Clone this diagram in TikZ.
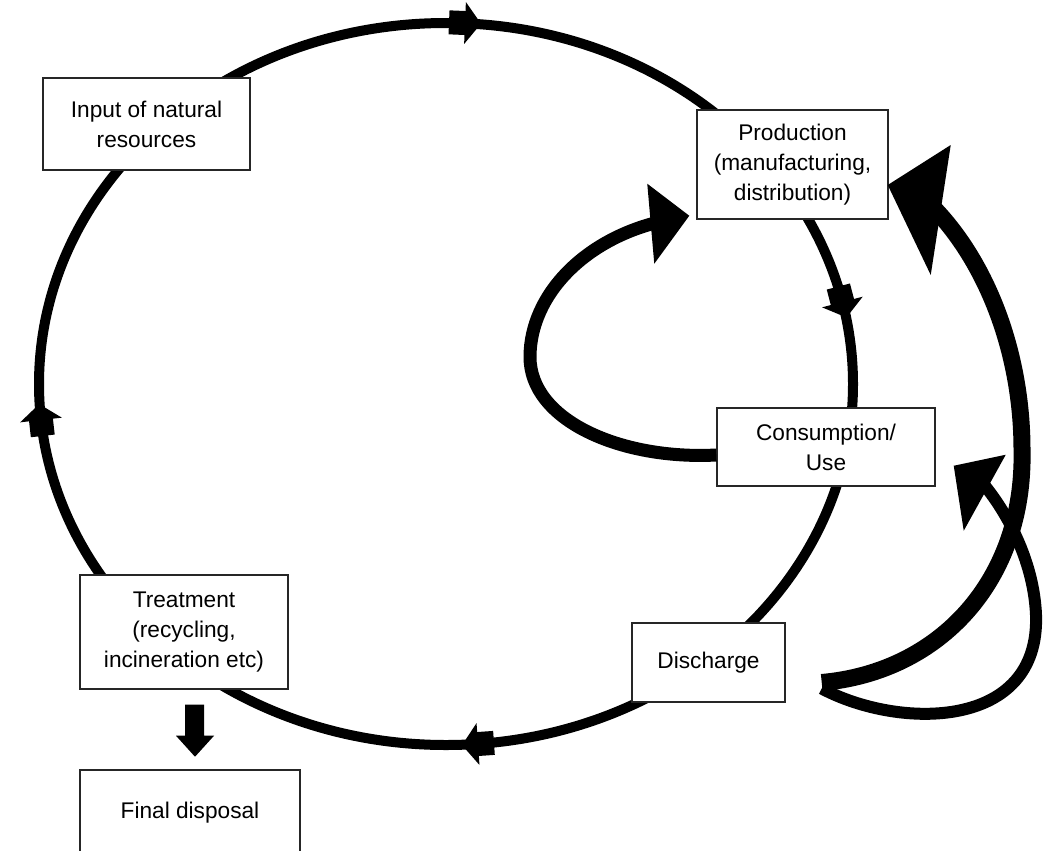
\documentclass[tikz,border=0pt]{standalone}
\usepackage{fontspec}
\setmainfont{Liberation Sans}
\usetikzlibrary{calc}
\newdimen\pxu \pxu=0.75pt
\tikzset{
  box/.style={draw=black!85, line width=1.1pt, fill=white, align=center,
    inner sep=0pt, font=\fontsize{17}{22.5}\selectfont},
  ring/.style={line width=7.5pt},
  innerloop/.style={line width=9.75pt},
  bigloop/.style={line width=12.75pt},
  lowerloop/.style={line width=9pt},
  cyclehead/.pic={
    \fill (-16,-12) rectangle (4,12);
    \fill (0,-21) -- (16,0) -- (0,21) -- cycle;
  }
}
\begin{document}
\begin{tikzpicture}[x=0.75pt,y=-0.75pt]
\useasboundingbox (0,0) rectangle (1045,850);
\fill[white] (0,0) rectangle (1045,850);

% main material cycle
\draw[ring] (446,384) ellipse [x radius=407\pxu, y radius=361\pxu];
\pic[rotate=-2.4]  at (465,23)    {cyclehead};
\pic[rotate=-75.3] at (842.4,302) {cyclehead};
\pic[rotate=184]   at (478,744)   {cyclehead};
\pic[rotate=96.4]  at (41,420)    {cyclehead};

% stages
\node[box, minimum width=207\pxu, minimum height=92\pxu]  (input) at (146.5,124) {Input of natural\\resources};
\node[box, minimum width=191\pxu, minimum height=109\pxu] (prod)  at (792.5,164.5) {Production\\(manufacturing,\\distribution)};
\node[box, minimum width=218\pxu, minimum height=78\pxu]  (cons)  at (826,447) {Consumption/\\Use};
\node[box, minimum width=153\pxu, minimum height=79\pxu]  (disch) at (708.5,662.5) {Discharge};
\node[box, minimum width=208\pxu, minimum height=114\pxu] (treat) at (184,632) {Treatment\\(recycling,\\incineration etc)};
\node[box, minimum width=220\pxu, minimum height=86\pxu]  (final) at (190,813) {Final disposal};

% reuse loop: consumption back to production
\coordinate (innerstart) at ($(cons.west)+(0,8)$);
\coordinate (innertip) at ($(prod.south west)+(-7,-4)$);
\draw[innerloop] (innerstart) .. controls (620,460) and (530,420) .. (530,357)
  .. controls (530,295) and (585,238) .. ($(innertip)+(-25,5)$);
\fill (innertip) -- ($(innertip)+(-42,-32)$) -- ($(innertip)+(-35,48)$) -- cycle;

% loops leaving discharge
\coordinate (loopstart) at ($(disch.east)+(36,22)$);
\coordinate (bigtip) at ($(prod.east)+(-1,20.5)$);
\draw[bigloop] ($(loopstart)+(0,-2)$) .. controls (940,672) and (1025,580) .. (1022,450)
  .. controls (1022,350) and (985,258) .. ($(bigtip)+(41,18)$);
\fill (bigtip) -- ($(bigtip)+(63,-40)$) -- ($(bigtip)+(43,90)$) -- cycle;

\coordinate (lowtip) at ($(cons.south east)+(18,-21)$);
\draw[lowerloop] ($(loopstart)+(0,4)$) .. controls (900,730) and (1040,730) .. (1036,615)
  .. controls (1034,565) and (1010,515) .. ($(lowtip)+(27,15)$);
\fill (lowtip) -- ($(lowtip)+(52,-11)$) -- ($(lowtip)+(10,65)$) -- cycle;

% treatment to final disposal
\fill ($(treat.south)+(1,15)$) -- ($(treat.south)+(20,15)$) -- ($(treat.south)+(20,46)$)
  -- ($(treat.south)+(30,46)$) -- ($(treat.south)+(11,67)$) -- ($(treat.south)+(-8,46)$)
  -- ($(treat.south)+(1,46)$) -- cycle;
\end{tikzpicture}
\end{document}
